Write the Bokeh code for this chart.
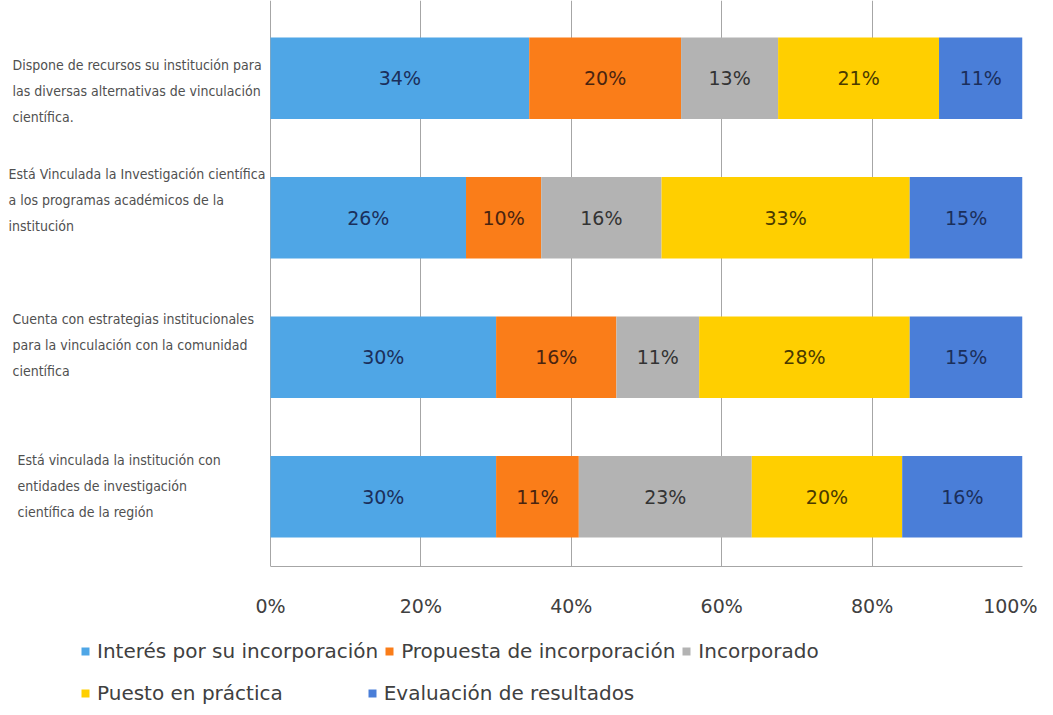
from bokeh.plotting import figure
from bokeh.layouts import column
from bokeh.models import ColumnDataSource, Range1d, FixedTicker, Label, Legend, LegendItem
from bokeh.core.properties import value
from bokeh.embed import file_html
from bokeh.resources import INLINE

# ---------------- data ----------------
categories = [
    "Dispone de recursos su institución para\nlas diversas alternativas de vinculación\ncientífica.",
    "Está Vinculada la Investigación científica\na los programas académicos de la\ninstitución",
    "Cuenta con  estrategias institucionales\npara la vinculación con la comunidad\ncientífica",
    "Está vinculada la institución con\nentidades de investigación\ncientífica de la región",
]
series = [
    "Interés por su incorporación",
    "Propuesta de incorporación",
    "Incorporado",
    "Puesto en práctica",
    "Evaluación de resultados",
]
interes = [34.4, 26, 30, 30]
propuesta = [20.2, 10, 16, 11]
incorporado = [12.9, 16, 11, 23]
practica = [21.4, 33, 28, 20]
evaluacion = [11.1, 15, 15, 16]
tick_values = [0, 20, 40, 60, 80, 100]
tick_labels = ["0%", "20%", "40%", "60%", "80%", "100%"]

# ---------------- style ----------------
colors = ["#4FA6E6", "#FA7D19", "#B3B3B3", "#FFCF00", "#4A7ED8"]
label_colors = ["#1B2F5B", "#4A2410", "#333333", "#4A3A00", "#1B2F5B"]
keys = ["s0", "s1", "s2", "s3", "s4"]
cat_x = [12, 8, 12, 17]          # screen px from left edge
cat_dy = [-13, 18, 12, 11]
CAT_FONT = "'DejaVu Sans Condensed', 'Liberation Sans Narrow', sans-serif"
W = 1037
PLOT_LEFT_PX = 270               # where 0 % sits
PLOT_RIGHT_BORDER = 15
FRAME_H = 566
BAND_TOP_PAD = 8
px_per_unit = (W - PLOT_RIGHT_BORDER - PLOT_LEFT_PX) / 100.0
x_start = -PLOT_LEFT_PX / px_per_unit

n = len(categories)
band_px = (FRAME_H - BAND_TOP_PAD) / n
y_end = n - 0.5 + BAND_TOP_PAD / band_px

rows = list(range(n))[::-1]  # top category at the top
values = [interes, propuesta, incorporado, practica, evaluacion]
data = {"y": rows}
for k, v in zip(keys, values):
    data[k] = v
src = ColumnDataSource(data)

p = figure(width=W, height=621, output_backend="svg", toolbar_location=None,
           x_range=Range1d(x_start, 100), y_range=Range1d(-0.5, y_end),
           y_axis_location=None, min_border_left=0, min_border_right=PLOT_RIGHT_BORDER,
           min_border_top=0, min_border_bottom=55)
p.outline_line_color = None
p.background_fill_color = "white"
p.border_fill_color = "white"

renderers = p.hbar_stack(keys, y="y", height=0.585, source=src,
                         color=colors, line_color=None)

# value labels inside segments
for i, k in enumerate(keys):
    lefts = [sum(values[j][r] for j in range(i)) for r in range(n)]
    mids = [l + v / 2 for l, v in zip(lefts, values[i])]
    txt = [f"{round(v)}%" for v in values[i]]
    lsrc = ColumnDataSource(dict(x=mids, y=rows, t=txt))
    p.text(x="x", y="y", text="t", source=lsrc, text_align="center",
           text_baseline="middle", text_font=value("DejaVu Sans"),
           text_font_size="19px", text_color=label_colors[i])

# axis / grid
p.xaxis.ticker = FixedTicker(ticks=tick_values)
p.xaxis.bounds = (0, 100)
p.xaxis.major_label_overrides = {t: l for t, l in zip(tick_values, tick_labels)}
p.xaxis.major_label_text_font = "DejaVu Sans"
p.xaxis.major_label_text_font_size = "19px"
p.xaxis.major_label_text_color = "#404040"
p.xaxis.major_tick_out = 0
p.xaxis.major_tick_in = 0
p.xaxis.minor_tick_line_color = None
p.xaxis.axis_line_color = "#A6A6A6"
p.xaxis.major_label_standoff = 28
p.xgrid.ticker = FixedTicker(ticks=tick_values)
p.xgrid.grid_line_color = "#A6A6A6"
p.ygrid.grid_line_color = None

# category labels
for r, cat, cx, dy in zip(rows, categories, cat_x, cat_dy):
    p.add_layout(Label(x=cx, y=r, x_units="screen", y_units="data", y_offset=dy,
                       text=cat, text_align="left", text_baseline="middle",
                       text_font=CAT_FONT, text_font_size="14px",
                       text_line_height=1.63, text_color="#505050"))

# legend figure
LH = 86
lf = figure(width=W, height=LH, output_backend="svg", toolbar_location=None,
            x_range=Range1d(0, 1), y_range=Range1d(0, 1),
            x_axis_location=None, y_axis_location=None,
            min_border_left=0, min_border_right=0, min_border_top=0, min_border_bottom=0)
lf.outline_line_color = None
lf.xgrid.grid_line_color = None
lf.ygrid.grid_line_color = None
lf.border_fill_color = "white"
# swatch carriers: zero-width bars outside the visible range (only used by the legend)
dummies = [lf.hbar(y=[-5], left=[0], right=[0], height=0.5, fill_color=c, line_color=None)
           for c in colors]

def make_legend(idx, loc, spacing):
    items = [LegendItem(label=series[i], renderers=[dummies[i]]) for i in idx]
    lg = Legend(items=items, location=loc, orientation="horizontal",
                glyph_width=10, glyph_height=10, label_standoff=7, spacing=spacing,
                padding=0, margin=0, border_line_color=None,
                background_fill_alpha=0, label_text_font="DejaVu Sans",
                label_text_font_size="20px", label_text_color="#404040",
                label_height=22)
    lf.add_layout(lg)

make_legend([0, 1, 2], (80, LH - 20 - 22), 6)
make_legend([3, 4], (80, LH - 62 - 22), 84)

open("out.html", "w").write(file_html(column(p, lf), INLINE))
